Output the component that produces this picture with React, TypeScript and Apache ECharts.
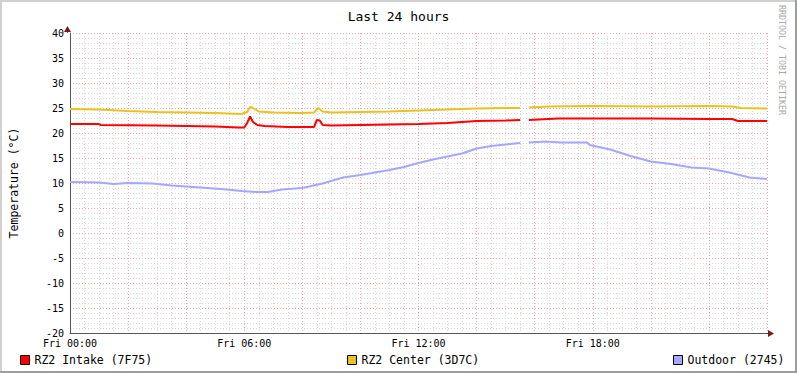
import React, { useEffect, useRef } from "react";
import * as echarts from "echarts";

type Pt = [number, number | null];

const titleText = "Last 24 hours";
const yAxisName = "Temperature (°C)";
const seriesNames = ["RZ2 Intake (7F75)", "RZ2 Center (3D7C)", "Outdoor (2745)"];
const seriesColors = ["#FF0000", "#EBC11F", "#A6A6FF"];
const yTicks = { min: -20, max: 40, interval: 5 };
const xLabelHours = [0, 6, 12, 18];

const intakeData: Pt[] = [
  [0, 21.8], [1.0, 21.8], [1.05, 21.6], [3, 21.5], [4, 21.4], [5, 21.3], [5.8, 21.1], [6.0, 21.1],
  [6.1, 22.0], [6.2, 23.3], [6.3, 22.2], [6.45, 21.6], [6.7, 21.4], [7.5, 21.2], [8.4, 21.2],
  [8.5, 22.6], [8.6, 22.5], [8.7, 21.6], [9.0, 21.5], [10, 21.6], [11, 21.7], [12, 21.8],
  [13, 22.0], [14, 22.4], [15, 22.5], [15.5, 22.6], [15.65, null], [15.8, 22.6], [16.8, 22.9],
  [18, 22.9], [20, 22.9], [22, 22.8], [22.8, 22.8], [23.0, 22.4], [24, 22.4],
];

const centerData: Pt[] = [
  [0, 24.8], [1, 24.7], [2, 24.4], [3, 24.2], [4, 24.1], [5, 24.0], [5.9, 23.8], [6.1, 24.2],
  [6.2, 25.2], [6.3, 25.0], [6.5, 24.3], [7, 24.1], [8, 24.0], [8.4, 24.1], [8.55, 25.0],
  [8.7, 24.3], [9, 24.1], [10, 24.2], [11, 24.3], [12, 24.5], [13, 24.7], [14, 24.9], [15, 25.0],
  [15.5, 25.0], [15.65, null], [15.8, 25.1], [16.5, 25.3], [18, 25.4], [20, 25.3], [22, 25.4],
  [22.8, 25.3], [23.1, 25.0], [24, 24.9],
];

const outdoorData: Pt[] = [
  [0, 10.2], [1, 10.1], [1.5, 9.8], [2, 10.0], [2.85, 9.9], [3.5, 9.5], [4.5, 9.1], [5.4, 8.7],
  [5.9, 8.4], [6.4, 8.2], [6.8, 8.2], [7.3, 8.7], [8.0, 9.0], [8.7, 9.9], [9.4, 11.1], [10, 11.6],
  [11, 12.6], [11.5, 13.2], [12, 14.0], [12.5, 14.7], [13, 15.3], [13.5, 15.9], [14, 16.9],
  [14.5, 17.4], [15, 17.7], [15.5, 18.0], [15.65, null], [15.8, 18.1], [16.4, 18.3], [16.9, 18.1],
  [17.8, 18.1], [17.9, 17.6], [18.6, 16.7], [19.3, 15.4], [20.0, 14.3], [20.7, 13.8], [21.4, 13.1],
  [22.0, 12.9], [22.7, 12.1], [23.4, 11.1], [24, 10.8],
];

const MONO = "'DejaVu Sans Mono', monospace";

function prep(d: Pt[]) {
  return d.map(([h, v]) => (v === null ? [h, "-"] : [h, v]));
}

export default function App() {
  const ref = useRef<HTMLDivElement>(null);
  useEffect(() => {
    if (!ref.current) return;
    const chart = echarts.init(ref.current, undefined, { renderer: "svg" });
    const datasets = [intakeData, centerData, outdoorData];
    const legendLefts = [15, 342, 668];
    chart.setOption({
      animation: false,
      backgroundColor: "#FFFFFF",
      title: {
        text: titleText,
        left: "center",
        top: 5,
        textStyle: { fontFamily: MONO, fontSize: 13, fontWeight: "normal", color: "#000" },
      },
      legend: seriesNames.map((n, i) => ({
        data: [n],
        left: legendLefts[i],
        top: 349,
        icon: "rect",
        itemWidth: 9,
        itemHeight: 9,
        itemStyle: { borderColor: "#000", borderWidth: 1 },
        textStyle: { fontFamily: MONO, fontSize: 11.5, color: "#000" },
        selectedMode: false,
      })),
      grid: { left: 67, top: 33, width: 700, height: 300, containLabel: false },
      xAxis: [
        {
          type: "value",
          min: 0,
          max: 24,
          interval: 6,
          axisLine: { show: true, onZero: false, lineStyle: { color: "#555", width: 1 } },
          axisTick: { show: false },
          axisLabel: {
            fontFamily: MONO,
            fontSize: 10,
            lineHeight: 10,
            color: "#000",
            margin: 5,
            showMaxLabel: false,
            formatter: (v: number) =>
              xLabelHours.includes(v) ? "Fri " + String(v).padStart(2, "0") + ":00" : "",
          },
          splitLine: { show: false },
        },
        {
          type: "value",
          min: 0,
          max: 24,
          interval: 2,
          position: "bottom",
          axisLine: { show: false, onZero: false },
          axisTick: { show: false },
          axisLabel: { show: false },
          splitLine: { show: true, lineStyle: { color: "#E8A8A8", type: [1, 2], width: 1 } },
          minorTick: { show: false, splitNumber: 4 },
          minorSplitLine: { show: true, lineStyle: { color: "#D8D8D8", type: [1, 2], width: 1 } },
        },
      ],
      yAxis: {
        type: "value",
        min: yTicks.min,
        max: yTicks.max,
        interval: yTicks.interval,
        name: yAxisName,
        nameLocation: "middle",
        nameGap: 50,
        nameTextStyle: { fontFamily: MONO, fontSize: 11.5, color: "#000" },
        axisLine: { show: true, onZero: false, lineStyle: { color: "#555", width: 1 } },
        axisTick: { show: false },
        axisLabel: { fontFamily: MONO, fontSize: 10, lineHeight: 9, color: "#000", margin: 6 },
        splitLine: { show: true, lineStyle: { color: "#E8A8A8", type: [1, 2], width: 1 } },
        minorTick: { show: false, splitNumber: 5 },
        minorSplitLine: { show: true, lineStyle: { color: "#D8D8D8", type: [1, 2], width: 1 } },
      },
      series: datasets.map((d, i) => ({
        name: seriesNames[i],
        type: "line",
        xAxisIndex: 0,
        data: prep(d),
        showSymbol: false,
        symbol: "none",
        connectNulls: false,
        color: seriesColors[i],
        lineStyle: { color: seriesColors[i], width: 2 },
        z: 3 + (2 - i),
      })),
      graphic: [
        { type: "rect", shape: { x: 0, y: 0, width: 797, height: 2 }, style: { fill: "#D0D0D0" } },
        { type: "rect", shape: { x: 0, y: 0, width: 2, height: 373 }, style: { fill: "#D0D0D0" } },
        { type: "rect", shape: { x: 795, y: 0, width: 2, height: 373 }, style: { fill: "#9E9E9E" } },
        { type: "rect", shape: { x: 0, y: 371, width: 797, height: 2 }, style: { fill: "#9E9E9E" } },
        { type: "line", shape: { x1: 67.5, y1: 33, x2: 67.5, y2: 29 }, style: { stroke: "#555", lineWidth: 1 } },
        { type: "polygon", shape: { points: [[67.5, 26], [64, 32], [71, 32]] }, style: { fill: "#7A1A1A" } },
        { type: "line", shape: { x1: 767, y1: 333.5, x2: 771, y2: 333.5 }, style: { stroke: "#555", lineWidth: 1 } },
        { type: "polygon", shape: { points: [[774, 333.5], [768, 330], [768, 337]] }, style: { fill: "#7A1A1A" } },
        {
          type: "text",
          x: 786,
          y: 5,
          rotation: -Math.PI / 2,
          style: {
            text: "RRDTOOL / TOBI OETIKER",
            fontFamily: MONO,
            fontSize: 8.3,
            fill: "#A8A8A8",
            align: "left",
            verticalAlign: "top",
          },
        },
      ],
    });
    return () => chart.dispose();
  }, []);
  return (
    <div
      ref={ref}
      style={{ position: "absolute", left: 0, top: 0, width: 797, height: 373 }}
    />
  );
}
